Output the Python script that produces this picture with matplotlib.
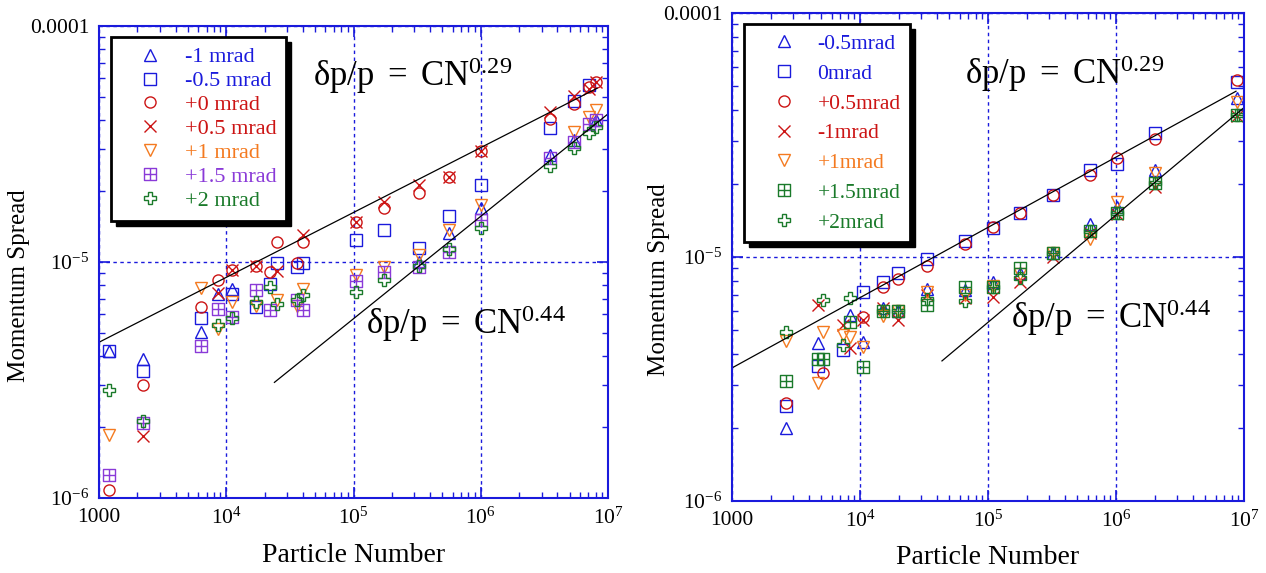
import numpy as np
import matplotlib
matplotlib.use("Agg")
import matplotlib.pyplot as plt
from matplotlib.path import Path
from matplotlib.patches import Rectangle

plt.rcParams['font.family'] = ['Liberation Serif', 'DejaVu Serif']
plt.rcParams['mathtext.fontset'] = 'custom'
plt.rcParams['mathtext.rm'] = 'Liberation Serif'
plt.rcParams['mathtext.it'] = 'Liberation Serif:italic'

nan = np.nan

# couleurs
BLUE = '#1a1adc'
RED = '#cc1414'
ORANGE = '#f47a20'
PURPLE = '#8a3ad8'
GREEN = '#1a7a2a'

# ---- panneau gauche ----
n_left = [1200, 2200, 6300, 8600, 11000, 17000, 22000, 25000, 36000, 40000,
          1.04e5, 1.72e5, 3.25e5, 5.6e5, 1.0e6, 3.5e6, 5.4e6, 7.1e6, 8.0e6]

left_m1 = [4.2e-6, 3.87e-6, 5.04e-6, 7.3e-6, 7.66e-6, nan, nan, nan, nan, nan,
           nan, nan, 1.0e-5, 1.33e-5, 1.7e-5, 2.85e-5, 3.3e-5, nan, 4.0e-5]
left_m05 = [4.2e-6, 3.45e-6, 5.77e-6, nan, 7.3e-6, 6.43e-6, 8.03e-6, 9.95e-6, 9.5e-6, 9.95e-6,
            1.24e-5, 1.36e-5, 1.15e-5, 1.57e-5, 2.13e-5, 3.7e-5, 4.8e-5, 5.6e-5, nan]
left_p0 = [1.08e-6, 3.0e-6, 6.43e-6, 8.43e-6, 9.29e-6, 9.6e-6, 9.1e-6, 1.21e-5, 9.95e-6, 1.22e-5,
           1.48e-5, 1.70e-5, 1.97e-5, 2.3e-5, 2.96e-5, 4.04e-5, 4.68e-5, 5.5e-5, 5.8e-5]
left_p05 = [nan, 1.83e-6, nan, 7.36e-6, 9.29e-6, 9.6e-6, nan, 9.2e-6, nan, 1.30e-5,
            1.48e-5, 1.8e-5, 2.13e-5, 2.3e-5, 2.96e-5, 4.33e-5, 5.06e-5, 5.4e-5, 5.8e-5]
left_p1 = [1.85e-6, nan, 7.73e-6, 5.2e-6, 6.74e-6, 6.49e-6, nan, 6.87e-6, 6.49e-6, 7.66e-6,
           8.77e-6, 9.57e-6, 1.07e-5, 1.37e-5, 1.75e-5, nan, 3.56e-5, 4.1e-5, 4.42e-5]
left_p15 = [1.25e-6, 2.08e-6, 4.39e-6, 6.3e-6, 5.85e-6, 7.58e-6, 6.24e-6, nan, 6.93e-6, 6.24e-6,
            8.28e-6, 9.1e-6, 9.5e-6, 1.1e-5, 1.51e-5, 2.77e-5, 3.24e-5, 3.86e-5, 4.0e-5]
left_p2 = [2.86e-6, 2.12e-6, nan, 5.39e-6, 5.77e-6, 6.8e-6, 7.8e-6, 6.61e-6, 6.93e-6, 7.23e-6,
           7.43e-6, 8.43e-6, 9.6e-6, 1.14e-5, 1.4e-5, 2.54e-5, 3.05e-5, 3.53e-5, 3.74e-5]

left_labels = ['-1 mrad', '-0.5 mrad', '+0 mrad', '+0.5 mrad', '+1 mrad', '+1.5 mrad', '+2 mrad']

# ---- panneau droit ----
n_right = [2640, 4700, 5140, 7360, 8360, 10500, 15100, 19800, 33300, 66000,
           1.09e5, 1.78e5, 3.22e5, 6.27e5, 1.02e6, 2.02e6, 8.8e6]

right_m05 = [1.99e-6, 4.45e-6, nan, nan, 5.78e-6, 4.49e-6, 6.2e-6, 6.0e-6, 7.4e-6, 7.3e-6,
             7.9e-6, 8.6e-6, 1.04e-5, 1.36e-5, 1.6e-5, 2.28e-5, 4.49e-5]
right_0 = [2.45e-6, 3.57e-6, nan, 4.16e-6, nan, 7.2e-6, 7.9e-6, 8.6e-6, 9.8e-6, 1.16e-5,
           1.31e-5, 1.51e-5, 1.8e-5, 2.28e-5, 2.4e-5, 3.22e-5, 5.2e-5]
right_p05 = [2.52e-6, nan, 3.35e-6, nan, nan, 5.67e-6, 7.54e-6, 8.1e-6, 9.18e-6, 1.13e-5,
             1.33e-5, 1.51e-5, 1.8e-5, 2.17e-5, 2.55e-5, 3.05e-5, 5.31e-5]
right_m1 = [nan, 6.35e-6, nan, 5.26e-6, 4.24e-6, 5.52e-6, 6.2e-6, 5.5e-6, 7.0e-6, 6.8e-6,
            6.86e-6, 7.9e-6, 1.0e-5, 1.26e-5, 1.5e-5, 1.93e-5, 3.8e-5]
right_p1 = [4.53e-6, 3.05e-6, 4.93e-6, 4.79e-6, 4.70e-6, 4.28e-6, 5.73e-6, 6.0e-6, 7.2e-6, 6.98e-6,
            7.6e-6, 8.5e-6, 1.04e-5, 1.19e-5, 1.68e-5, 2.2e-5, 4.3e-5]
right_p15 = [3.1e-6, 3.82e-6, 3.82e-6, nan, 5.42e-6, 3.54e-6, 6.01e-6, 6.0e-6, 6.35e-6, 7.55e-6,
             7.5e-6, 9.0e-6, 1.04e-5, 1.28e-5, 1.51e-5, 2.01e-5, 3.82e-5]
right_p2 = [4.93e-6, nan, 6.67e-6, 4.36e-6, 6.79e-6, nan, 6.01e-6, 6.0e-6, 6.7e-6, 6.6e-6,
            7.5e-6, 8.2e-6, 1.04e-5, 1.28e-5, 1.51e-5, 2.01e-5, 3.82e-5]

right_labels = ['-0.5mrad', '0mrad', '+0.5mrad', '-1mrad', '+1mrad', '+1.5mrad', '+2mrad']

# droites d'ajustement : (N depart, valeur au depart, exposant, N fin)
left_fits = [(1000, 4.57e-6, 0.275, 8.2e6), (23900, 3.09e-6, 0.434, 1.0e7)]
right_fits = [(1000, 3.51e-6, 0.288, 8.66e6), (43700, 3.75e-6, 0.44, 1.0e7)]

# marqueur carre quadrille
hash_path = Path(
    [(-1, -1), (1, -1), (1, 1), (-1, 1), (-1, -1), (0, -1), (0, 1), (-1, 0), (1, 0)],
    [Path.MOVETO, Path.LINETO, Path.LINETO, Path.LINETO, Path.CLOSEPOLY,
     Path.MOVETO, Path.LINETO, Path.MOVETO, Path.LINETO])

left_styles = [('^', BLUE), ('s', BLUE), ('o', RED), ('x', RED),
               ('v', ORANGE), (hash_path, PURPLE), ('P', GREEN)]
right_styles = [('^', BLUE), ('s', BLUE), ('o', RED), ('x', RED),
                ('v', ORANGE), (hash_path, GREEN), ('P', GREEN)]


def tracer_panneau(ax, n, series, labels, styles, fits, eq_pos, leg_opts, label_xy):
    for ys, lab, (mk, col) in zip(series, labels, styles):
        ms = 9 if mk == 'x' else 8
        ax.plot(n, ys, linestyle='none', marker=mk, markersize=ms,
                markerfacecolor='none', markeredgecolor=col, markeredgewidth=1.0,
                label=lab)

    for n0, y0, expo, n1 in fits:
        nn = np.logspace(np.log10(n0), np.log10(n1), 50)
        ax.plot(nn, y0 * (nn / n0) ** expo, color='black', linewidth=0.9)

    ax.set_xscale('log')
    ax.set_yscale('log')
    ax.set_xlim(1000, 1e7)
    ax.set_ylim(1e-6, 1e-4)

    ax.set_xticks([1e3, 1e4, 1e5, 1e6, 1e7])
    ax.set_xticklabels(['1000', r'$10^4$', r'$10^5$', r'$10^6$', r'$10^7$'])
    ax.set_yticks([1e-6, 1e-5, 1e-4])
    ax.set_yticklabels([r'$10^{-6}$', r'$10^{-5}$', '0.0001'])

    ax.tick_params(which='both', direction='in', top=True, right=True, color=BLUE,
                   labelsize=15.5, labelcolor='black')
    ax.tick_params(which='major', length=8, width=1.2, pad=7)
    ax.tick_params(which='minor', length=4.5, width=1.0)
    for sp in ax.spines.values():
        sp.set_color(BLUE)
        sp.set_linewidth(1.5)

    ax.grid(True, which='major', color=BLUE, linestyle=(0, (2.5, 2.5)), linewidth=1.0)

    ax.set_xlabel('Particle Number', fontsize=20)
    ax.set_ylabel('Momentum Spread', fontsize=18)
    ax.xaxis.set_label_coords(0.5, label_xy[1])
    ax.yaxis.set_label_coords(label_xy[0], label_xy[2])

    (x1, y1), (x2, y2) = eq_pos
    ax.text(x1, y1, r'$\mathrm{δp/p\ =\ CN^{0.29}}$', transform=ax.transAxes,
            fontsize=25, ha='left', va='center')
    ax.text(x2, y2, r'$\mathrm{δp/p\ =\ CN^{0.44}}$', transform=ax.transAxes,
            fontsize=25, ha='left', va='center')

    fs, spacing, hl, htp = leg_opts
    leg = ax.legend(loc='upper left', bbox_to_anchor=(0.024, 0.977), fontsize=fs,
                    frameon=True, fancybox=False, edgecolor='black', framealpha=1,
                    handlelength=hl, handletextpad=htp, labelspacing=spacing,
                    borderpad=0.45, borderaxespad=0, numpoints=1)
    leg.get_frame().set_linewidth(2.0)
    leg.set_zorder(6)
    for txt, (mk, col) in zip(leg.get_texts(), styles):
        txt.set_color(col)
    return leg


def ombre(ax, leg, renderer, dec=5):
    bb = leg.get_frame().get_window_extent(renderer)
    ax.add_artist(Rectangle((bb.x0 + dec, bb.y0 - dec), bb.width, bb.height,
                            transform=None, facecolor='black', edgecolor='black',
                            zorder=5.5, clip_on=False))


fig = plt.figure(figsize=(12.66, 5.73), dpi=100)
ax1 = fig.add_axes([0.0782, 0.1309, 0.4021, 0.8237])
ax2 = fig.add_axes([0.5782, 0.1257, 0.4044, 0.8516])

leg1 = tracer_panneau(ax1, n_left,
                      [left_m1, left_m05, left_p0, left_p05, left_p1, left_p15, left_p2],
                      left_labels, left_styles, left_fits,
                      [(0.42, 0.895), (0.525, 0.37)], (16, 0.15, 2.6, 0.25),
                      (-0.135, -0.095, 0.45))
leg2 = tracer_panneau(ax2, n_right,
                      [right_m05, right_0, right_p05, right_m1, right_p1, right_p15, right_p2],
                      right_labels, right_styles, right_fits,
                      [(0.455, 0.875), (0.545, 0.375)], (15.5, 0.45, 2.8, 0.15),
                      (-0.122, -0.09, 0.453))

fig.canvas.draw()
rend = fig.canvas.get_renderer()
ombre(ax1, leg1, rend)
ombre(ax2, leg2, rend)

fig.savefig('out.png', dpi=100)
